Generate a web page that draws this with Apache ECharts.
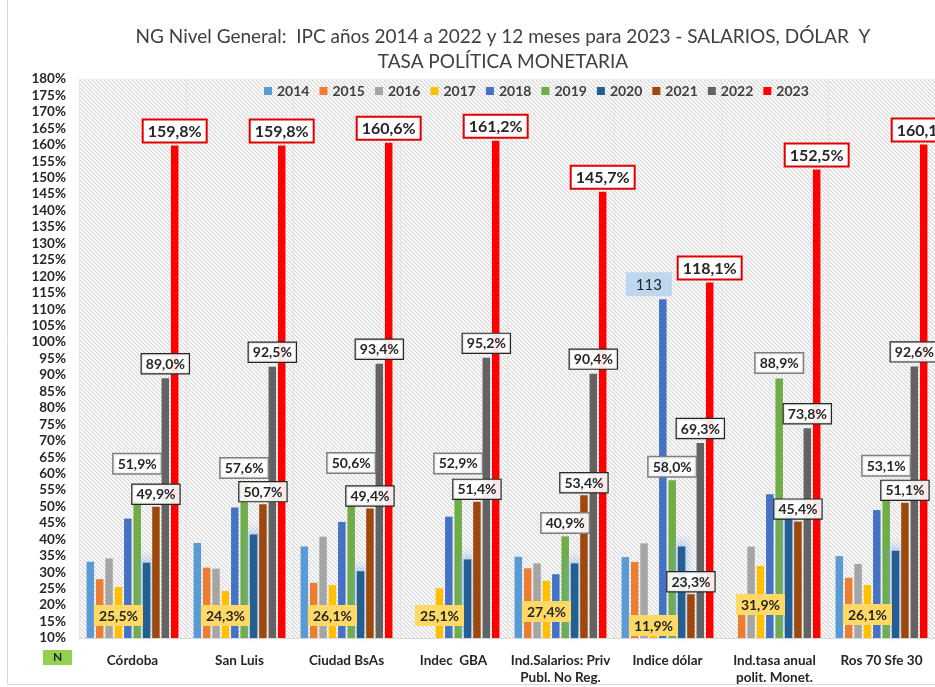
<!doctype html>
<html>
<head>
    <meta charset="UTF-8">
    <title>NG Nivel General - IPC, salarios, dólar y tasa</title>
    <script src="https://cdn.jsdelivr.net/npm/echarts@6/dist/echarts.min.js"></script>
    <style>
        html, body { margin: 0; padding: 0; background: #fff; }
        #main { width: 935px; height: 687px; }
    </style>
</head>
<body>
<div id="main"></div>
<script type="text/javascript">
    // categorias y años
    var categorias = ['Córdoba', 'San Luis', 'Ciudad BsAs', 'Indec  GBA', 'Ind.Salarios: Priv\nPubl. No Reg.',
        'Indice dólar', 'Ind.tasa anual\npolit. Monet.', 'Ros 70 Sfe 30'];
    var anios = ['2014', '2015', '2016', '2017', '2018', '2019', '2020', '2021', '2022', '2023'];

    // valores (%) por año, en el orden de las categorias
    var v2014 = [33.2, 38.9, 37.8, null, 34.7, 34.6, null, 34.9];
    var v2015 = [27.9, 31.4, 26.8, null, 31.2, 33.1, 17.6, 28.3];
    var v2016 = [34.2, 31.1, 40.8, null, 32.7, 38.8, 37.8, 32.5];
    var v2017 = [25.5, 24.3, 26.1, 25.1, 27.4, 11.9, 31.9, 26.1];
    var v2018 = [46.3, 49.7, 45.3, 46.9, 29.4, 113, 53.7, 48.9];
    var v2019 = [51.9, 57.6, 50.6, 52.9, 40.9, 58.0, 88.9, 53.1];
    var v2020 = [32.9, 41.5, 30.3, 33.9, 32.7, 37.8, 47.4, 36.5];
    var v2021 = [49.9, 50.7, 49.4, 51.4, 53.4, 23.3, 45.4, 51.1];
    var v2022 = [89.0, 92.5, 93.4, 95.2, 90.4, 69.3, 73.8, 92.6];
    var v2023 = [159.8, 159.8, 160.6, 161.2, 145.7, 118.1, 152.5, 160.1];

    var colores = ['#5b9bd5', '#ed7d31', '#a5a5a5', '#ffc000', '#4472c4', '#70ad47', '#255e91', '#9e480e', '#636363', '#ff0000'];

    // separacion de las etiquetas (movidas a mano en el original)
    var sepVerde = [27, 4, 32, 24, 4, 4, 6, 21];
    var sepAmarillo = [12, 12, 12, 12, 16, 2, 23, 13];

    var fuente = 'Lato, "Liberation Sans", sans-serif';

    // fondo rayado del area de trazado
    var pc = document.createElement('canvas');
    pc.width = 4; pc.height = 4;
    var ctx = pc.getContext('2d');
    ctx.fillStyle = '#f7f7f7';
    ctx.fillRect(0, 0, 4, 4);
    ctx.strokeStyle = '#d2d2d2';
    ctx.lineWidth = 1;
    ctx.beginPath();
    ctx.moveTo(-1, -1); ctx.lineTo(5, 5);
    ctx.moveTo(-1, 3); ctx.lineTo(1, 5);
    ctx.moveTo(3, -1); ctx.lineTo(5, 1);
    ctx.stroke();

    function pct(v) {
        return v.toFixed(1).replace('.', ',') + '%';
    }

    function caja(borde, ancho, tam) {
        return {
            show: true,
            formatter: function (p) { return pct(p.value); },
            fontFamily: fuente,
            fontWeight: 'bold',
            fontSize: tam || 14,
            color: '#262626',
            backgroundColor: 'rgba(255,255,255,0.9)',
            borderColor: borde,
            borderWidth: ancho,
            padding: [3, 4, 2, 4]
        };
    }

    var valores = [v2014, v2015, v2016, v2017, v2018, v2019, v2020, v2021, v2022, v2023];
    var series = [];
    for (var i = 0; i < anios.length; i++) {
        var s = {
            name: anios[i],
            type: 'bar',
            barWidth: 7.5,
            barGap: '25%',
            itemStyle: {color: colores[i]},
            data: valores[i].slice()
        };
        if (anios[i] === '2017') {
            s.data = valores[i].map(function (v, k) {
                return {value: v, label: {distance: sepAmarillo[k]}};
            });
            s.label = {
                show: true, position: 'insideBottom',
                formatter: function (p) { return pct(p.value); },
                fontFamily: fuente, fontWeight: 'bold', fontSize: 14, color: '#262626',
                backgroundColor: '#ffd966', padding: [4, 5, 3, 5]
            };
        } else if (anios[i] === '2018') {
            s.data = valores[i].map(function (v, k) {
                if (k !== 5) return v;
                return {
                    value: v,
                    label: {
                        show: true, position: 'top', distance: 3, offset: [-14, 0],
                        formatter: '{c}', fontFamily: fuente, fontSize: 15, color: '#262626',
                        backgroundColor: '#bdd7ee', padding: [5, 10, 4, 10]
                    }
                };
            });
        } else if (anios[i] === '2019') {
            s.data = valores[i].map(function (v, k) {
                return {value: v, label: {distance: sepVerde[k]}};
            });
            s.label = caja('#7f7f7f', 1.5);
            s.label.position = 'top';
        } else if (anios[i] === '2020') {
            s.itemStyle.shadowBlur = 10;
            s.itemStyle.shadowColor = 'rgba(120,170,240,0.85)';
            s.itemStyle.shadowOffsetY = -4;
        } else if (anios[i] === '2021') {
            s.label = caja('#262626', 1.2);
            s.label.position = 'top';
            s.label.distance = 3;
        } else if (anios[i] === '2022') {
            s.label = caja('#262626', 1.2);
            s.label.position = 'top';
            s.label.distance = 5;
        } else if (anios[i] === '2023') {
            s.label = caja('#e00000', 2, 16);
            s.label.position = 'top';
            s.label.distance = 4;
            s.label.backgroundColor = '#ffffff';
        }
        series.push(s);
    }

    var myChart = echarts.init(document.getElementById('main'));
    var option = {
        animation: false,
        title: {
            text: 'NG Nivel General:  IPC años 2014 a 2022 y 12 meses para 2023 - SALARIOS, DÓLAR  Y\nTASA POLÍTICA MONETARIA',
            left: 498,
            top: 19,
            textAlign: 'center',
            textStyle: {
                fontFamily: fuente,
                fontWeight: 'normal',
                fontSize: 19,
                lineHeight: 25,
                color: '#404040'
            }
        },
        legend: {
            data: anios,
            left: 259,
            top: 79,
            itemWidth: 8,
            itemHeight: 8,
            itemGap: 10,
            icon: 'rect',
            textStyle: {fontFamily: fuente, fontWeight: 'bold', fontSize: 14, color: '#404040'}
        },
        grid: {
            left: 79,
            right: -9,
            top: 79,
            bottom: 49,
            show: true,
            borderWidth: 0,
            backgroundColor: {image: pc, repeat: 'repeat'}
        },
        xAxis: {
            type: 'category',
            data: categorias,
            axisTick: {show: false},
            axisLine: {lineStyle: {color: '#d9d9d9'}},
            splitLine: {show: true, lineStyle: {color: '#e4e4e4'}},
            axisLabel: {
                interval: 0,
                margin: 14,
                lineHeight: 17,
                fontFamily: fuente,
                fontWeight: 'bold',
                fontSize: 13.5,
                color: '#262626'
            }
        },
        yAxis: {
            type: 'value',
            min: 10,
            max: 180,
            interval: 5,
            axisLine: {show: false},
            axisTick: {show: false},
            splitLine: {lineStyle: {color: '#ececec'}},
            axisLabel: {
                formatter: '{value}%',
                margin: 13,
                fontFamily: fuente,
                fontWeight: 'bold',
                fontSize: 13.5,
                color: '#262626'
            }
        },
        graphic: [
            {
                type: 'rect',
                shape: {x: 7.5, y: -10, width: 1000, height: 694.5},
                style: {fill: 'none', stroke: '#d9d9d9', lineWidth: 1},
                silent: true
            },
            {
                type: 'rect',
                shape: {x: 43, y: 650, width: 29, height: 15},
                style: {fill: '#92d050'}
            },
            {
                type: 'text',
                x: 57.5,
                y: 657.5,
                style: {
                    text: 'N', fontFamily: fuente, fontWeight: 'bold', fontSize: 12,
                    fill: '#262626', align: 'center', verticalAlign: 'middle'
                }
            }
        ],
        series: series
    };
    myChart.setOption(option);
</script>
</body>
</html>
